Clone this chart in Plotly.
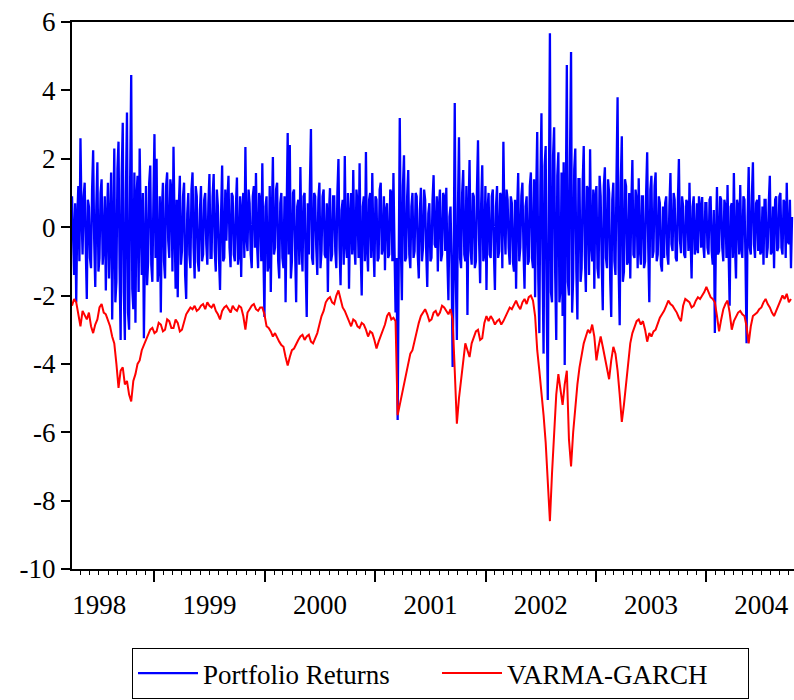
import pandas as pd
import plotly.graph_objects as go

# ---------------- data ----------------
blue_start = "1998-04-03"   # half-weekly observations
portfolio_returns = [
    0.9, -0.5, -1.4, 0.7, -2.2, 0.3, 1.2, -1.0, 2.6, 0.4, -0.8, 0.9, 1.3, -0.6, -2.1, 0.8, 0.6, -0.9, -1.2, 1.1,
    2.25, -0.4, -1.75, 0.6, 1.9, -1.3, -0.9, 1.0, 1.4, -1.1, -0.5, 0.9, -1.85, 0.2, 1.3, -1.5, 0.4, 1.6, -2.7, 0.5,
    2.3, -2.2, -1.6, 1.7, 2.5, -1.2, -3.3, 1.5, 3.05, -1.9, -3.3, 1.1, 3.35, -2.5, -3.0, 1.4, 4.45, -1.8, -2.4, 1.6,
    -2.8, 0.9, 1.5, -1.9, 2.3, 0.2, -1.4, 1.0, -3.25, -0.6, 1.2, -1.7, -1.0, 1.3, 1.8, -1.1, -1.6, 0.8, 2.72, -0.9,
    2.0, -1.6, -1.2, 0.9, -2.5, 0.5, 1.3, -1.0, -1.5, 1.2, 1.6, -0.4, -0.9, 1.4, 1.1, -1.3, 2.35, 0.1, -1.8, 0.8,
    -2.05, 0.6, 1.5, -1.1, -0.7, 0.9, 1.3, -1.4, -2.1, 0.4, 1.0, -0.8, -1.2, 1.1, 1.6, -0.6, -1.5, 1.2, 0.9, -1.0,
    -1.3, 0.5, 1.2, -1.0, -0.8, 0.8, 1.0, -0.5, -1.1, 0.7, 1.55, -0.9, -0.9, 0.9, 1.55, -0.7, -1.3, 1.1, 0.6, -0.9,
    -1.84, 0.4, 1.8, -1.0, -0.9, 1.1, -0.4, 0.8, 1.5, -0.6, -1.17, 1.0, 0.9, -0.8, -1.0, 0.6, 1.45, -1.1, -0.8, 0.9,
    -1.46, 0.5, 1.0, -0.9, 2.34, -0.3, -0.7, 1.1, 0.7, -0.8, -1.2, 0.9, 1.2, -0.6, 1.58, -0.5, -1.2, 1.0, 0.8, -1.0,
    1.87, -0.7, -2.63, 0.6, 0.9, -1.3, -1.1, 1.2, -1.9, 0.3, 2.05, -0.8, -0.6, 1.1, 1.3, -1.0, -1.5, 0.7, 1.0, -0.9,
    -1.2, 0.9, -2.2, 0.4, 2.75, -0.8, 2.4, -1.5, -1.0, 1.0, 1.1, -0.7, -2.2, 0.6, 0.8, -1.1, 1.76, -0.4, -1.3, 0.9,
    1.0, -1.2, -2.63, 0.7, -0.8, 1.2, 2.87, -0.9, -1.1, 1.0, 0.9, -0.6, -1.4, 0.8, 1.3, -1.2, -0.7, 0.9, 1.1, -0.8,
    -0.9, 0.7, -1.9, 0.4, 1.14, -1.0, -0.8, 0.9, 0.9, -0.7, -1.2, 1.0, 1.99, -0.6, -1.7, 0.5, 0.8, -1.1, 2.08, -0.5,
    -0.9, 1.0, -1.8, 0.3, 1.0, -0.8, 1.67, -0.5, -1.1, 1.1, 0.7, -0.9, 1.87, -0.7, -2.0, 0.6, 0.9, -1.0, 2.2, -0.6,
    -1.3, 0.8, 1.0, -0.9, 1.58, -0.4, -1.46, 0.9, 0.8, -1.0, -0.9, 1.1, 1.3, -0.8, -0.6, 0.9, -1.26, 0.5, 0.7, -0.9,
    -0.8, 1.1, 1.0, -1.0, 1.58, -0.6, -2.5, -0.9, -5.64, -1.2, 3.19, -0.5, -2.14, 1.2, 2.1, -1.0, -0.9, 0.9, 1.67, -0.8,
    -1.2, 0.6, 1.0, -0.9, -0.7, 1.0, 0.9, -0.8, -1.5, 0.5, 1.15, -1.0, -0.6, 1.1, 0.8, -0.7, -1.75, 0.4, 0.7, -1.0,
    -0.9, 0.8, 1.52, -0.5, -0.6, 0.9, -1.3, 0.6, 1.1, -1.0, -0.8, 1.0, 0.9, -0.7, 1.15, -0.9, -2.14, 0.3, 0.6, -1.1,
    -4.09, -1.0, 3.63, -1.5, -3.3, 0.5, 2.63, -0.9, -1.2, 1.0, 1.67, -0.8, -1.0, 1.2, -2.57, 0.4, 1.96, -0.7, -1.1, 1.0,
    0.9, -1.2, -1.0, 1.1, 2.54, -0.4, -1.64, 0.7, 1.81, -1.0, -0.8, 1.2, -1.84, 0.5, 1.0, -0.8, -0.9, 0.9, 1.1, -0.7,
    -1.84, 0.6, 1.2, -0.9, -0.7, 1.0, 0.9, -1.2, 2.5, 0.2, -0.8, 1.1, 0.8, -0.6, -1.1, 0.9, 0.7, -1.0, -1.3, 0.8,
    -1.8, 0.5, 1.58, -1.0, -0.6, 0.9, 1.3, -0.7, -1.8, 0.6, 0.9, -1.1, -1.0, 1.2, 1.6, -0.9, -1.2, 1.4, -2.05, 0.9,
    2.78, -1.5, -3.1, 1.2, 3.33, -1.0, -3.7, 1.8, 2.37, -2.4, -5.06, 0.8, 5.67, -1.9, -2.2, 2.1, 2.92, -1.4, -3.3, 1.5,
    2.19, -2.2, -1.8, 1.6, -2.6, 1.9, -4.03, 0.6, 4.74, -1.6, -2.0, 2.0, 5.12, -2.5, -1.5, 1.7, 2.3, -1.3, -2.7, 1.4,
    1.4, -1.6, -1.2, 1.3, 2.37, -0.8, -1.9, 1.2, 1.1, -1.4, 2.28, -0.5, -1.0, 1.1, -1.8, 0.9, 1.2, -1.2, -1.5, 1.5,
    0.9, -1.1, -2.43, 1.2, 1.75, -0.9, -1.2, 1.4, 1.0, -1.5, -2.63, 0.8, 1.3, -1.0, -1.4, 1.5, 3.8, -1.2, -2.87, 1.3,
    2.66, -1.6, -1.3, 1.4, 1.2, -1.1, -1.0, 1.0, -1.5, 0.7, 1.96, -0.8, -0.9, 1.1, 0.8, -1.2, 1.43, -0.6, -1.1, 0.9,
    0.9, -1.2, -1.0, 1.0, 2.19, -0.6, -2.2, 1.1, 1.5, -0.9, -0.7, 1.2, 1.6, -1.0, -0.8, 0.9, 0.7, -1.1, -1.3, 0.6,
    -0.9, 0.7, 0.9, -0.8, -1.1, 0.6, 1.58, -0.5, -0.7, 1.0, 0.8, -0.9, -1.0, 0.7, 1.99, -0.4, -0.76, 0.9, 0.6, -0.8,
    -0.9, 0.8, 0.7, -0.7, 1.3, -0.3, -1.5, 0.6, 0.9, -0.8, -0.6, 0.7, -0.76, 0.9, 0.6, -0.6, 0.88, -0.5, -0.9, 0.7,
    0.7, -0.6, -0.8, 0.8, 0.9, -0.7, -1.1, 0.5, -3.1, -0.4, 1.17, -0.8, -0.7, 0.9, 0.8, -0.6, -1.0, 0.8, 0.6, -0.9,
    1.23, -0.7, -2.3, 0.6, 0.7, -0.9, 1.58, -0.5, -1.5, 0.8, 0.6, -0.8, 1.23, -0.6, -0.9, 0.9, 0.8, -1.0, -3.4, 0.3,
    1.76, -0.6, -0.8, 0.9, 1.9, -0.5, -0.9, 0.7, 0.8, -0.7, 0.94, -0.8, -0.7, 0.6, -1.1, 0.8, 0.8, -0.9, -0.6, 0.7,
    1.5, -0.8, -0.7, 0.6, -1.2, 0.8, 0.9, -0.7, -0.6, 0.9, 1.0, -0.6, -0.8, 0.8, 0.7, -0.9, 1.3, -0.4, -0.5, 0.8,
    -1.2, 0.3,
]

red_start = "1998-04-03"    # weekly observations
varma_garch = [
    -2.3, -2.1, -2.2, -2.6, -2.9, -2.45, -2.6, -2.7, -2.5, -2.9, -3.1, -2.85, -2.7, -2.35, -2.25, -2.5, -2.55, -2.75, -2.9, -3.2,
    -3.4, -4.0, -4.7, -4.2, -4.1, -4.6, -4.5, -4.9, -5.1, -4.5, -4.3, -4.0, -3.9, -3.6, -3.45, -3.35, -3.2, -3.0, -2.95, -3.1,
    -3.05, -2.8, -2.85, -3.05, -3.0, -2.7, -2.75, -2.95, -2.95, -2.7, -2.8, -3.05, -3.0, -2.75, -2.55, -2.45, -2.35, -2.4, -2.3, -2.45,
    -2.4, -2.3, -2.25, -2.4, -2.2, -2.3, -2.35, -2.25, -2.45, -2.55, -2.7, -2.45, -2.35, -2.3, -2.4, -2.5, -2.3, -2.4, -2.45, -2.3,
    -2.35, -2.6, -3.0, -2.5, -2.4, -2.3, -2.25, -2.4, -2.45, -2.35, -2.35, -2.55, -2.9, -2.95, -3.05, -3.2, -3.1, -3.25, -3.35, -3.45,
    -3.5, -3.8, -4.05, -3.8, -3.6, -3.55, -3.4, -3.3, -3.2, -3.15, -3.3, -3.2, -3.15, -3.35, -3.4, -3.25, -3.1, -2.85, -2.6, -2.45,
    -2.2, -2.1, -2.05, -2.2, -2.25, -2.0, -1.85, -2.1, -2.35, -2.45, -2.6, -2.8, -2.9, -2.7, -2.75, -2.9, -2.95, -2.8, -2.85, -3.0,
    -3.2, -3.05, -3.1, -3.3, -3.55, -3.35, -3.2, -3.0, -2.85, -2.6, -2.5, -2.7, -2.65, -2.75, -5.5, -5.2, -4.9, -4.6, -4.3, -3.9,
    -3.7, -3.6, -3.3, -3.0, -2.8, -2.6, -2.5, -2.4, -2.55, -2.75, -2.7, -2.5, -2.45, -2.6, -2.5, -2.3, -2.35, -2.45, -2.55, -2.4,
    -2.7, -4.2, -5.75, -5.0, -4.5, -3.9, -3.4, -3.6, -3.8, -3.4, -3.2, -3.05, -3.0, -3.3, -3.25, -2.8, -2.6, -2.75, -2.6, -2.7,
    -2.85, -2.75, -2.7, -2.85, -2.75, -2.6, -2.5, -2.35, -2.4, -2.25, -2.15, -2.3, -2.4, -2.2, -2.1, -2.25, -2.05, -2.0, -2.15, -2.6,
    -3.6, -4.2, -4.8, -5.5, -6.3, -7.4, -8.6, -7.2, -6.0, -4.9, -4.3, -4.7, -5.2, -4.6, -4.2, -6.2, -7.0, -6.0, -5.2, -4.6,
    -4.1, -3.7, -3.4, -3.2, -3.0, -3.1, -2.85, -3.2, -3.9, -3.5, -3.2, -3.5, -3.8, -4.2, -4.45, -3.9, -3.5, -3.7, -4.2, -4.9,
    -5.7, -5.2, -4.6, -3.9, -3.4, -3.1, -2.9, -2.75, -2.7, -2.85, -2.75, -3.0, -3.35, -3.1, -3.2, -3.05, -3.0, -2.8, -2.65, -2.55,
    -2.45, -2.3, -2.15, -2.25, -2.3, -2.4, -2.5, -2.65, -2.75, -2.3, -2.1, -2.15, -2.2, -2.35, -2.3, -2.15, -2.05, -2.1, -2.0, -1.9,
    -1.75, -1.9, -2.05, -2.1, -2.2, -2.6, -3.05, -2.7, -2.4, -2.25, -2.15, -2.5, -3.0, -2.75, -2.6, -2.5, -2.45, -2.55, -2.6, -2.9,
    -3.4, -2.9, -2.6, -2.55, -2.5, -2.4, -2.35, -2.2, -2.1, -2.25, -2.35, -2.5, -2.6, -2.45, -2.3, -2.15, -2.0, -2.1, -1.95, -2.2,
    -2.1,
]

y_tick_values = [6, 4, 2, 0, -2, -4, -6, -8, -10]
y_tick_labels = ["6", "4", "2", "0", "-2", "-4", "-6", "-8", "-10"]
series_names = ["Portfolio Returns", "VARMA-GARCH"]

blue_dates = pd.date_range(blue_start, periods=len(portfolio_returns), freq="84h")
red_dates = pd.date_range(red_start, periods=len(varma_garch), freq="7D")

FONT = "Liberation Serif"

fig = go.Figure()
fig.add_trace(go.Scatter(x=blue_dates, y=portfolio_returns, mode="lines",
                         name=series_names[0], legendwidth=229,
                         line=dict(color="#0000FF", width=2.3)))
fig.add_trace(go.Scatter(x=red_dates, y=varma_garch, mode="lines",
                         name=series_names[1], legendwidth=236,
                         line=dict(color="#FF0000", width=2)))

fig.update_layout(
    width=794, height=700,
    margin=dict(l=72, r=0, t=22, b=131, autoexpand=False),
    paper_bgcolor="white", plot_bgcolor="white",
    font=dict(family=FONT, size=27, color="black"),
    showlegend=True,
    legend=dict(orientation="h", x=0.0831, xanchor="left", y=-0.1444, yanchor="top",
                bordercolor="black", borderwidth=1, bgcolor="white",
                font=dict(family=FONT, size=27, color="black"),
                itemwidth=60, tracegroupgap=0),
)

fig.update_xaxes(
    type="date", range=["1998-04-03", "2004-10-18"], automargin=False,
    showline=True, linecolor="black", linewidth=2, mirror=True,
    ticks="outside", ticklen=11, tickwidth=1.5, tickcolor="black",
    dtick="M12", tick0="1998-01-01", ticklabelmode="period", tickformat="%Y",
    minor=dict(dtick="M1", ticks="outside", ticklen=4, tickcolor="black", tickwidth=1),
    showgrid=False, zeroline=False,
    tickfont=dict(family=FONT, size=27, color="black"),
)
fig.update_yaxes(
    range=[-10, 6], tickvals=y_tick_values, ticktext=y_tick_labels, automargin=False,
    showline=True, linecolor="black", linewidth=2, mirror=False,
    ticks="outside", ticklen=9, tickwidth=1.5, tickcolor="black",
    showgrid=False, zeroline=False,
    tickfont=dict(family=FONT, size=27, color="black"),
)

# remove the default 8px page margin so the figure sits at the window's corner
fig.write_html("out.html", config={"displayModeBar": False},
               post_script="document.body.style.margin='0px';")
